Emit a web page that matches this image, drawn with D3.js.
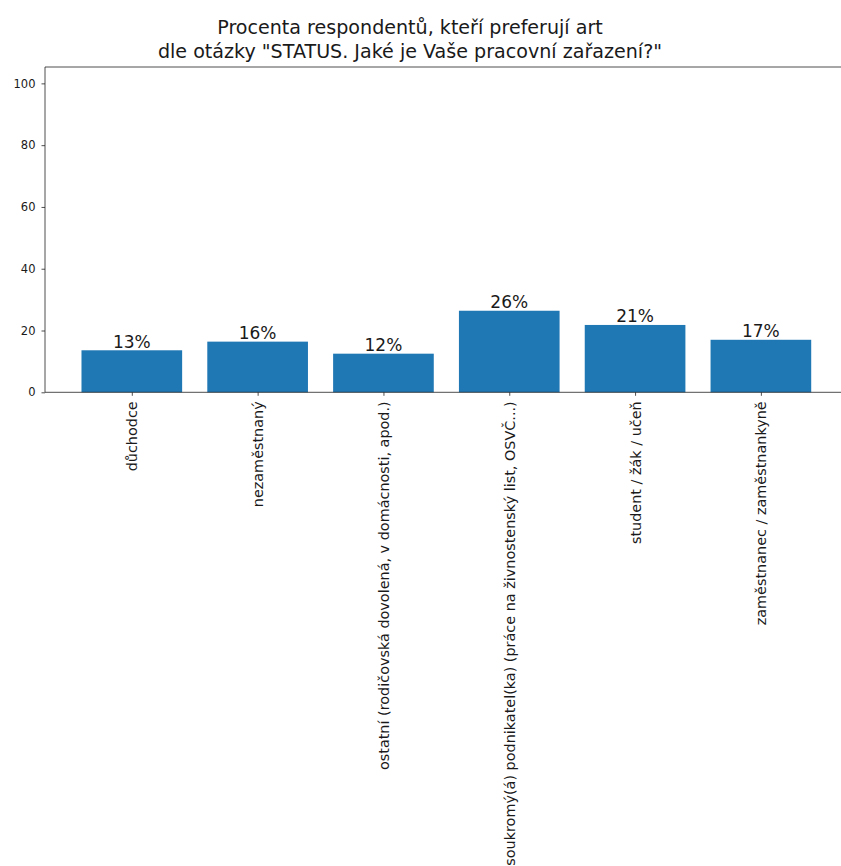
<!DOCTYPE html>
<html>
<head>
<meta charset="utf-8">
<script src="https://cdn.jsdelivr.net/npm/d3@7"></script>
<style>
  html, body { margin: 0; padding: 0; background: #fff; overflow: hidden; }
  svg { display: block; font-family: "DejaVu Sans", sans-serif; }
</style>
</head>
<body>
<svg id="chart" width="841" height="866"></svg>
<script>
const titleLines = ["Procenta respondentů, kteří preferují art", "dle otázky \"STATUS. Jaké je Vaše pracovní zařazení?\""];
const categories = [
  "důchodce",
  "nezaměstnaný",
  "ostatní (rodičovská dovolená, v domácnosti, apod.)",
  "soukromý(á) podnikatel(ka) (práce na živnostenský list, OSVČ...)",
  "student / žák / učeň",
  "zaměstnanec / zaměstnankyně"
];
const values = [13.6, 16.4, 12.5, 26.4, 21.8, 17.0];
const valueLabels = ["13%", "16%", "12%", "26%", "21%", "17%"];
const yTicks = [0, 20, 40, 60, 80, 100];

(function () {
const svg = d3.select("#chart");
const pLeft = 45, pRight = 847.7, pTop = 67, pBottom = 392.3;

const x = d3.scaleLinear().domain([-0.69, 5.69]).range([pLeft, pRight]);
const y = d3.scaleLinear().domain([0, 105.3]).range([pBottom, pTop]);
const barW = 0.8;

// Bars
svg.append("g").selectAll("rect").data(values).join("rect")
  .attr("x", (d, i) => x(i - barW / 2))
  .attr("width", (d, i) => x(i + barW / 2) - x(i - barW / 2))
  .attr("y", d => y(d))
  .attr("height", d => y(0) - y(d))
  .attr("fill", "#1f77b4");

// Value labels
svg.append("g").selectAll("text").data(values).join("text")
  .attr("x", (d, i) => x(i))
  .attr("y", d => y(d) - 2.5)
  .attr("text-anchor", "middle")
  .attr("font-size", 17)
  .attr("fill", "#1a1a1a")
  .text((d, i) => valueLabels[i]);

// Y axis
const yAxis = d3.axisLeft(y).tickValues(yTicks).tickSize(3.5).tickPadding(6).tickFormat(d3.format("d"));
const gy = svg.append("g").attr("transform", `translate(${pLeft},0)`).call(yAxis);
gy.select(".domain").remove();
gy.selectAll("text").attr("font-size", 11.5).attr("font-family", "DejaVu Sans").attr("fill", "#1a1a1a");
gy.selectAll("line").attr("stroke", "#222").attr("stroke-width", 0.8);

// X axis
const xAxis = d3.axisBottom(x).tickValues(d3.range(categories.length)).tickSize(3.5).tickPadding(3.5)
  .tickFormat(i => categories[i]);
const gx = svg.append("g").attr("transform", `translate(0,${pBottom})`).call(xAxis);
gx.select(".domain").remove();
gx.selectAll("line").attr("stroke", "#222").attr("stroke-width", 0.8);
gx.selectAll("text")
  .attr("font-size", 14.4)
  .attr("font-family", "DejaVu Sans")
  .attr("fill", "#1a1a1a")
  .attr("text-anchor", "end")
  .attr("dy", "0.35em")
  .attr("transform", "translate(0,9) rotate(-90)")
  .attr("x", 0)
  .attr("y", 0);

// Spines
const spine = svg.append("g").attr("fill", "none").attr("stroke", "#222").attr("stroke-width", 0.8);
spine.append("line").attr("x1", pLeft).attr("x2", pLeft).attr("y1", pTop).attr("y2", pBottom);
spine.append("line").attr("x1", pLeft).attr("x2", pRight).attr("y1", pBottom).attr("y2", pBottom);
spine.append("line").attr("x1", pLeft).attr("x2", pRight).attr("y1", pTop).attr("y2", pTop);
spine.append("line").attr("x1", pRight).attr("x2", pRight).attr("y1", pTop).attr("y2", pBottom);

// Title
const title = svg.append("text").attr("text-anchor", "middle").attr("font-size", 19.1).attr("fill", "#1a1a1a");
title.selectAll("tspan").data(titleLines).join("tspan")
  .attr("x", 410)
  .attr("y", (d, i) => 34 + i * 24)
  .text(d => d);
})();
</script>
</body>
</html>
